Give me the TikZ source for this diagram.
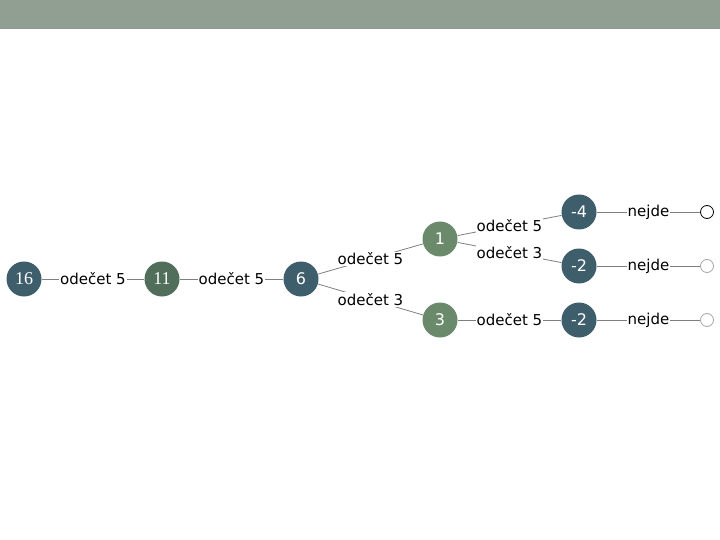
\documentclass[tikz,border=0pt]{standalone}
\usepackage{fontspec}
\setmainfont{DejaVu Sans}
\newfontfamily\numserif{Liberation Serif}
\definecolor{cbar}{HTML}{919F93}
\definecolor{cteal}{HTML}{3E5E6C}
\definecolor{cdkgreen}{HTML}{506E5A}
\definecolor{cgreen}{HTML}{6B8A6C}
\definecolor{cline}{HTML}{7F7F7F}
\tikzset{
  every picture/.style={line width=0.8pt},
  num/.style={circle, fill=#1, text=white, minimum size=35pt, inner sep=0pt, font=\fontsize{16}{18}\selectfont},
  num/.default=cteal,
  edge/.style={draw=cline},
  lab/.style={fill=white, inner sep=1pt, font=\fontsize{15}{18}\selectfont},
  leaf/.style={circle, draw=#1, fill=white, minimum size=13pt, inner sep=0pt},
  leaf/.default=cline!70,
}

\begin{document}
\begin{tikzpicture}[x=1pt, y=-1pt]
  \fill[white] (0,0) rectangle (720,540);
  \fill[cbar] (0,0) rectangle (720,29);
  % levels of the tree
  \node[num] (n16) at (24,279) {\numserif\fontsize{18}{20}\selectfont 16};
  \node[num=cdkgreen] (n11) at (162,279) {\numserif\fontsize{18}{20}\selectfont 11};
  \node[num] (n6) at (301,279) {6};
  \node[num=cgreen] (n1) at (440,239) {1};
  \node[num=cgreen] (n3) at (440,320) {3};
  \node[num] (m4) at (579,212) {-4};
  \node[num] (m2a) at (579,266) {-2};
  \node[num] (m2b) at (579,320) {-2};
  \node[leaf=black] (e1) at (707,212) {};
  \node[leaf] (e2) at (707,266) {};
  \node[leaf] (e3) at (707,320) {};
  % connectors
  \draw[edge] (n16) -- node[lab] {odečet 5} (n11);
  \draw[edge] (n11) -- node[lab] {odečet 5} (n6);
  \draw[edge] (n6) -- node[lab] {odečet 5} (n1);
  \draw[edge] (n6) -- node[lab] {odečet 3} (n3);
  \draw[edge] (n1) -- node[lab] {odečet 5} (m4);
  \draw[edge] (n1) -- node[lab] {odečet 3} (m2a);
  \draw[edge] (n3) -- node[lab] {odečet 5} (m2b);
  \foreach \a/\b in {m4/e1, m2a/e2, m2b/e3}
    \draw[edge] (\a) -- node[lab] {nejde} (\b);
\end{tikzpicture}
\end{document}
